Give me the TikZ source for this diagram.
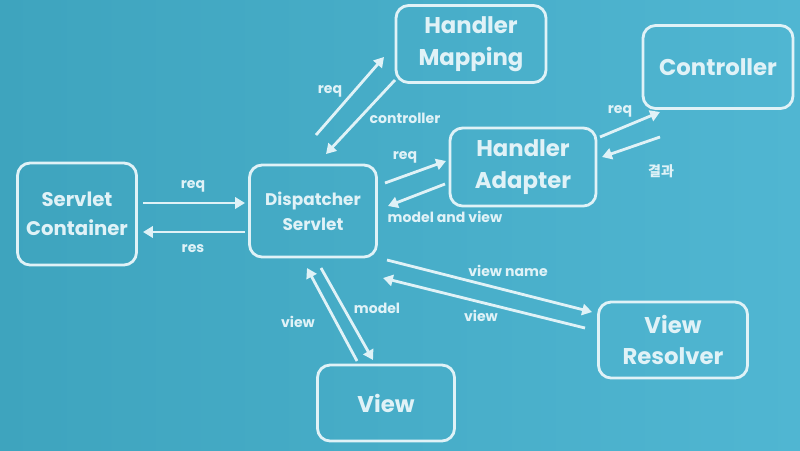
\documentclass[tikz,border=0pt]{standalone}
\usepackage{fontspec}
\setmainfont{Poppins}
\newfontfamily\krfont{Noto Sans CJK KR}
\usetikzlibrary{arrows.meta}

\definecolor{screenL}{RGB}{62,164,190}
\definecolor{screenR}{RGB}{80,182,210}
\definecolor{chalk}{RGB}{224,242,247}

\tikzset{
  block/.style={draw=chalk, line width=2pt, rounded corners=9pt, text=chalk,
    align=center, font=\bfseries\fontsize{16.2}{22.5}\selectfont},
  flow/.style={draw=chalk, line width=2pt, -{Triangle[length=7pt,width=8pt]}},
  lbl/.style={text=chalk, font=\bfseries\fontsize{10}{12}\selectfont}
}

\begin{document}
\begin{tikzpicture}[x=0.025cm, y=-0.025cm]
  \fill[left color=screenL, right color=screenR] (0,0) rectangle (800,450);

  \node[block, minimum width=2.975cm, minimum height=2.55cm,
    font=\bfseries\fontsize{14}{21}\selectfont] (sc) at (77,214) {Servlet\\Container};
  \node[block, minimum width=3.175cm, minimum height=2.3cm,
    font=\bfseries\fontsize{12}{18}\selectfont] (ds) at (313,211) {Dispatcher\\Servlet};
  \node[block, minimum width=3.75cm, minimum height=1.925cm] (hm) at (471,44) {Handler\\Mapping};
  \node[block, minimum width=3.75cm, minimum height=2.075cm] (ct) at (718,67) {Controller};
  \node[block, minimum width=3.65cm, minimum height=1.95cm] (ha) at (523,167) {Handler\\Adapter};
  \node[block, minimum width=3.725cm, minimum height=1.9cm] (vr) at (673,340) {View\\Resolver};
  \node[block, minimum width=3.425cm, minimum height=1.9cm] (vw) at (386,403) {View};

  % servlet container <-> dispatcher
  \draw[flow] ([shift={(66,-11)}]sc.center) -- ([shift={(-68,-8)}]ds.center);
  \draw[flow] ([shift={(-68,21)}]ds.center) -- ([shift={(66,18)}]sc.center);
  \node[lbl] (l-req1) at (193,186) {req};
  \node[lbl] (l-res) at (193,249) {res};

  % dispatcher <-> handler mapping
  \draw[flow] ([shift={(3,-76)}]ds.center) -- ([shift={(-87,13)}]hm.center);
  \draw[flow] ([shift={(-76,36)}]hm.center) -- ([shift={(13,-57)}]ds.center);
  \node[lbl] (l-req2) at (330,91) {req};
  \node[lbl] (l-ctrl) at (405,118) {controller};

  % dispatcher <-> handler adapter
  \draw[flow] ([shift={(72,-28)}]ds.center) -- ([shift={(-77,-6)}]ha.center);
  \draw[flow] ([shift={(-78,17)}]ha.center) -- ([shift={(75,-5)}]ds.center);
  \node[lbl] (l-req3) at (405,157) {req};
  \node[lbl] (l-mav) at (445,217) {model and view};

  % handler adapter <-> controller
  \draw[flow] ([shift={(77,-30)}]ha.center) -- ([shift={(-58,45)}]ct.center);
  \draw[flow] ([shift={(-58,70)}]ct.center) -- ([shift={(79,-10)}]ha.center);
  \node[lbl] (l-req4) at (620,111) {req};
  \node[lbl] (l-res2) at (661,171) {\krfont 결과};

  % dispatcher <-> view resolver
  \draw[flow] ([shift={(74,49)}]ds.center) -- ([shift={(-81,-28)}]vr.center);
  \draw[flow] ([shift={(-88,-12)}]vr.center) -- ([shift={(70,67)}]ds.center);
  \node[lbl] (l-vname) at (508,271) {view name};
  \node[lbl] (l-view1) at (481,316) {view};

  % dispatcher <-> view
  \draw[flow] ([shift={(8,57)}]ds.center) -- ([shift={(-13,-43)}]vw.center);
  \draw[flow] ([shift={(-29,-42)}]vw.center) -- ([shift={(-6,57)}]ds.center);
  \node[lbl] (l-model) at (377,308) {model};
  \node[lbl] (l-view2) at (298,322) {view};
\end{tikzpicture}
\end{document}
